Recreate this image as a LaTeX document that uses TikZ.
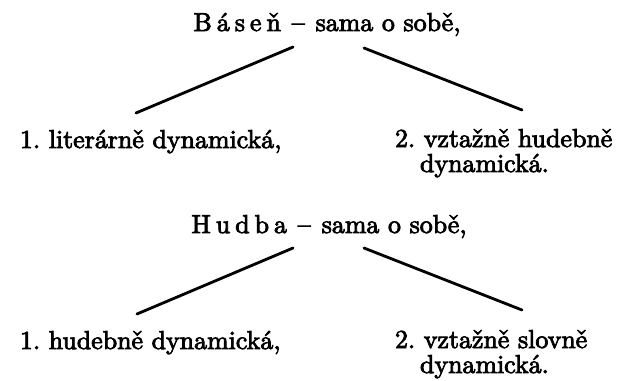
\documentclass[tikz,border=0pt]{standalone}
\usepackage{fontspec}
\newfontfamily\reffont{lmroman10-regular.otf}[FakeBold=3]
\newcommand\lsp{\kern5bp}
\newcommand\dashsp{\hspace{0.42em}–\hspace{0.42em}}
\begin{document}
\frenchspacing
\begin{tikzpicture}[x=1bp,y=-1bp,
  txt/.style={inner sep=0pt, outer sep=0pt, font=\reffont\fontsize{26}{25}\selectfont},
  branch/.style={line width=2.8bp, line cap=round}]
\useasboundingbox[fill=white] (0,0) rectangle (628,380);
% first tree
\node[txt, anchor=base] (t1) at (327,31) {B\lsp á\lsp s\lsp e\lsp ň\dashsp sama o sobě,};
\coordinate (l1a) at (293,47);
\coordinate (l1b) at (136,113);
\coordinate (r1a) at (364,48);
\coordinate (r1b) at (522,110);
\draw[branch] (l1a) -- (l1b);
\draw[branch] (r1a) -- (r1b);
\node[txt, anchor=base west] (a1) at (20,148) {1. literárně dynamická,};
\node[txt, anchor=base west] (b1) at (395,147)
  {\vtop{\baselineskip=25bp \hbox{2. vztažně hudebně}\hbox{\kern25bp dynamická.}}};
% second tree
\node[txt, anchor=base] (t2) at (329,233) {H\lsp u\lsp d\lsp b\lsp a\dashsp sama o sobě,};
\coordinate (l2a) at (293,248);
\coordinate (l2b) at (137,314);
\coordinate (r2a) at (364,248);
\coordinate (r2b) at (522,310);
\draw[branch] (l2a) -- (l2b);
\draw[branch] (r2a) -- (r2b);
\node[txt, anchor=base west] (a2) at (20,349) {1. hudebně dynamická,};
\node[txt, anchor=base west] (b2) at (395,348)
  {\vtop{\baselineskip=25bp \hbox{2. vztažně slovně}\hbox{\kern25bp dynamická.}}};
\end{tikzpicture}
\end{document}
